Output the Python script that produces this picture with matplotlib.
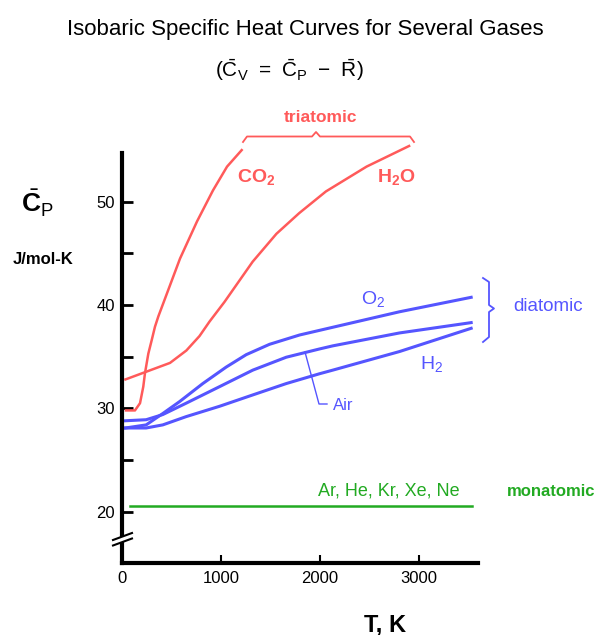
import matplotlib.pyplot as plt
from matplotlib import font_manager

# curve data (T in K, Cp in J/mol-K)
co2_t = [40, 131, 182, 215, 232, 266, 300, 333, 367, 414, 586, 758, 919, 1061, 1209]
co2_cp = [29.8, 29.8, 30.5, 32.1, 33.4, 35.3, 36.6, 37.9, 38.9, 40.1, 44.5, 48.1, 51.1, 53.4, 55.0]

h2o_t = [35, 485, 650, 783, 884, 1035, 1320, 1560, 1790, 2060, 2470, 2900]
h2o_cp = [32.8, 34.4, 35.6, 37.0, 38.4, 40.3, 44.2, 46.9, 48.9, 51.0, 53.4, 55.4]

o2_t = [35, 244, 412, 581, 816, 1053, 1255, 1490, 1793, 2129, 2803, 3527]
o2_cp = [28.1, 28.4, 29.5, 30.65, 32.4, 34.0, 35.2, 36.2, 37.1, 37.85, 39.35, 40.75]

air_t = [35, 244, 412, 648, 985, 1321, 1659, 1995, 2129, 2803, 3527]
air_cp = [28.8, 28.9, 29.4, 30.5, 32.1, 33.7, 34.95, 35.75, 36.05, 37.3, 38.3]

h2_t = [35, 244, 412, 648, 985, 1321, 1659, 1995, 2129, 2803, 3527]
h2_cp = [28.1, 28.1, 28.4, 29.2, 30.2, 31.3, 32.4, 33.35, 33.7, 35.5, 37.75]

mono_t = [76, 3533]
mono_cp = [20.58, 20.58]

x_ticks = [0, 1000, 2000, 3000]
y_ticks = [20, 25, 30, 35, 40, 45, 50]
y_labels = ["20", "", "30", "", "40", "", "50"]

red = "#FF5A5A"
blue = "#5555FF"
green = "#22AA22"

names = {f.name for f in font_manager.fontManager.ttflist}
narrow = "Liberation Sans Narrow" if "Liberation Sans Narrow" in names else "Liberation Sans"
plt.rcParams["font.family"] = ["Liberation Sans", "DejaVu Sans"]
plt.rcParams["mathtext.fontset"] = "custom"
plt.rcParams["mathtext.rm"] = "Liberation Sans"
plt.rcParams["mathtext.bf"] = "Liberation Sans:bold"

W, H = 600, 635
fig = plt.figure(figsize=(W / 100, H / 100), dpi=100)
ax = fig.add_axes([122 / W, 1 - 563 / H, 356 / W, 410 / H])


def fxy(px, py):
    return px / W, 1 - py / H


ax.plot(co2_t, co2_cp, color=red, lw=1.8, clip_on=False)
ax.plot(h2o_t, h2o_cp, color=red, lw=1.8, clip_on=False)
ax.plot(o2_t, o2_cp, color=blue, lw=2.2, clip_on=False)
ax.plot(air_t, air_cp, color=blue, lw=2.2, clip_on=False)
ax.plot(h2_t, h2_cp, color=blue, lw=2.2, clip_on=False)
ax.plot(mono_t, mono_cp, color=green, lw=1.8, clip_on=False)

ax.set_xlim(0, 3596)
ax.set_ylim(15.03, 54.72)
for s in ["top", "right"]:
    ax.spines[s].set_visible(False)
for s in ["left", "bottom"]:
    ax.spines[s].set_linewidth(3)

ax.set_xticks(x_ticks)
ax.set_xticklabels([str(t) for t in x_ticks], family=narrow, fontsize=12)
ax.set_yticks(y_ticks)
ax.set_yticklabels(y_labels, family=narrow, fontsize=12)
ax.tick_params(axis="y", direction="in", length=8, width=2, pad=5)
ax.tick_params(axis="x", direction="in", length=6, width=1.5, pad=6)

# axis break marks
fig.patches.append(plt.Polygon([fxy(112, 541), fxy(132, 534), fxy(132, 538), fxy(112, 545)],
                               closed=True, transform=fig.transFigure, color="white", zorder=5))
for dy in [0, 5.5]:
    fig.add_artist(plt.Line2D([113 / W, 132 / W], [1 - (540 + dy) / H, 1 - (533 + dy) / H],
                              color="black", lw=1.5, zorder=6))

# titles
fig.text(*fxy(305, 29), "Isobaric Specific Heat Curves for Several Gases",
         ha="center", va="center", fontsize=16, family=narrow)
fig.text(*fxy(289, 70),
         r"$(\bar{\mathrm{C}}_\mathrm{V}\ =\ \bar{\mathrm{C}}_\mathrm{P}\ -\ \bar{\mathrm{R}})$",
         ha="center", va="center", fontsize=15)

# axis labels
fig.text(*fxy(37, 203), r"$\bar{\mathbf{C}}_\mathrm{P}$", ha="center", va="center", fontsize=19)
fig.text(*fxy(43, 260), "J/mol-K", ha="center", va="center", fontsize=12, weight="bold", family=narrow)
fig.text(*fxy(385, 625), "T, K", ha="center", va="center", fontsize=17, weight="bold")

# curve labels
fig.text(*fxy(256, 177), r"$\mathbf{CO_2}$", ha="center", va="center", fontsize=14, color=red)
fig.text(*fxy(396, 177), r"$\mathbf{H_2O}$", ha="center", va="center", fontsize=14, color=red)
fig.text(*fxy(320, 118), "triatomic", ha="center", va="center", fontsize=12.5, color=red, weight="bold")
fig.text(*fxy(373, 299), r"$\mathrm{O_2}$", ha="center", va="center", fontsize=14, color=blue)
fig.text(*fxy(432, 364), r"$\mathrm{H_2}$", ha="center", va="center", fontsize=14, color=blue)
fig.text(*fxy(343, 405), "Air", ha="center", va="center", fontsize=12, color=blue)
fig.text(*fxy(548, 306), "diatomic", ha="center", va="center", fontsize=13.5, color=blue)
fig.text(*fxy(389, 491), "Ar, He, Kr, Xe, Ne", ha="center", va="center", fontsize=13,
         color=green, family=narrow)
fig.text(*fxy(551, 492), "monatomic", ha="center", va="center", fontsize=12, color=green, weight="bold")

# triatomic brace
bx = [243, 247, 312, 316, 320, 410, 414]
by = [142, 136.5, 136.5, 132, 136.5, 136.5, 142]
fig.add_artist(plt.Line2D([x / W for x in bx], [1 - y / H for y in by], color=red, lw=1.3))

# diatomic brace
dx = [483, 489, 489, 494, 489, 489, 483]
dy = [278, 282, 305, 308.5, 312, 337, 342]
fig.add_artist(plt.Line2D([x / W for x in dx], [1 - y / H for y in dy], color=blue, lw=1.3))

# Air leader line
lx = [305, 319, 327]
ly = [352, 404, 404]
fig.add_artist(plt.Line2D([x / W for x in lx], [1 - y / H for y in ly], color=blue, lw=1))

fig.savefig("out.png", dpi=100)
